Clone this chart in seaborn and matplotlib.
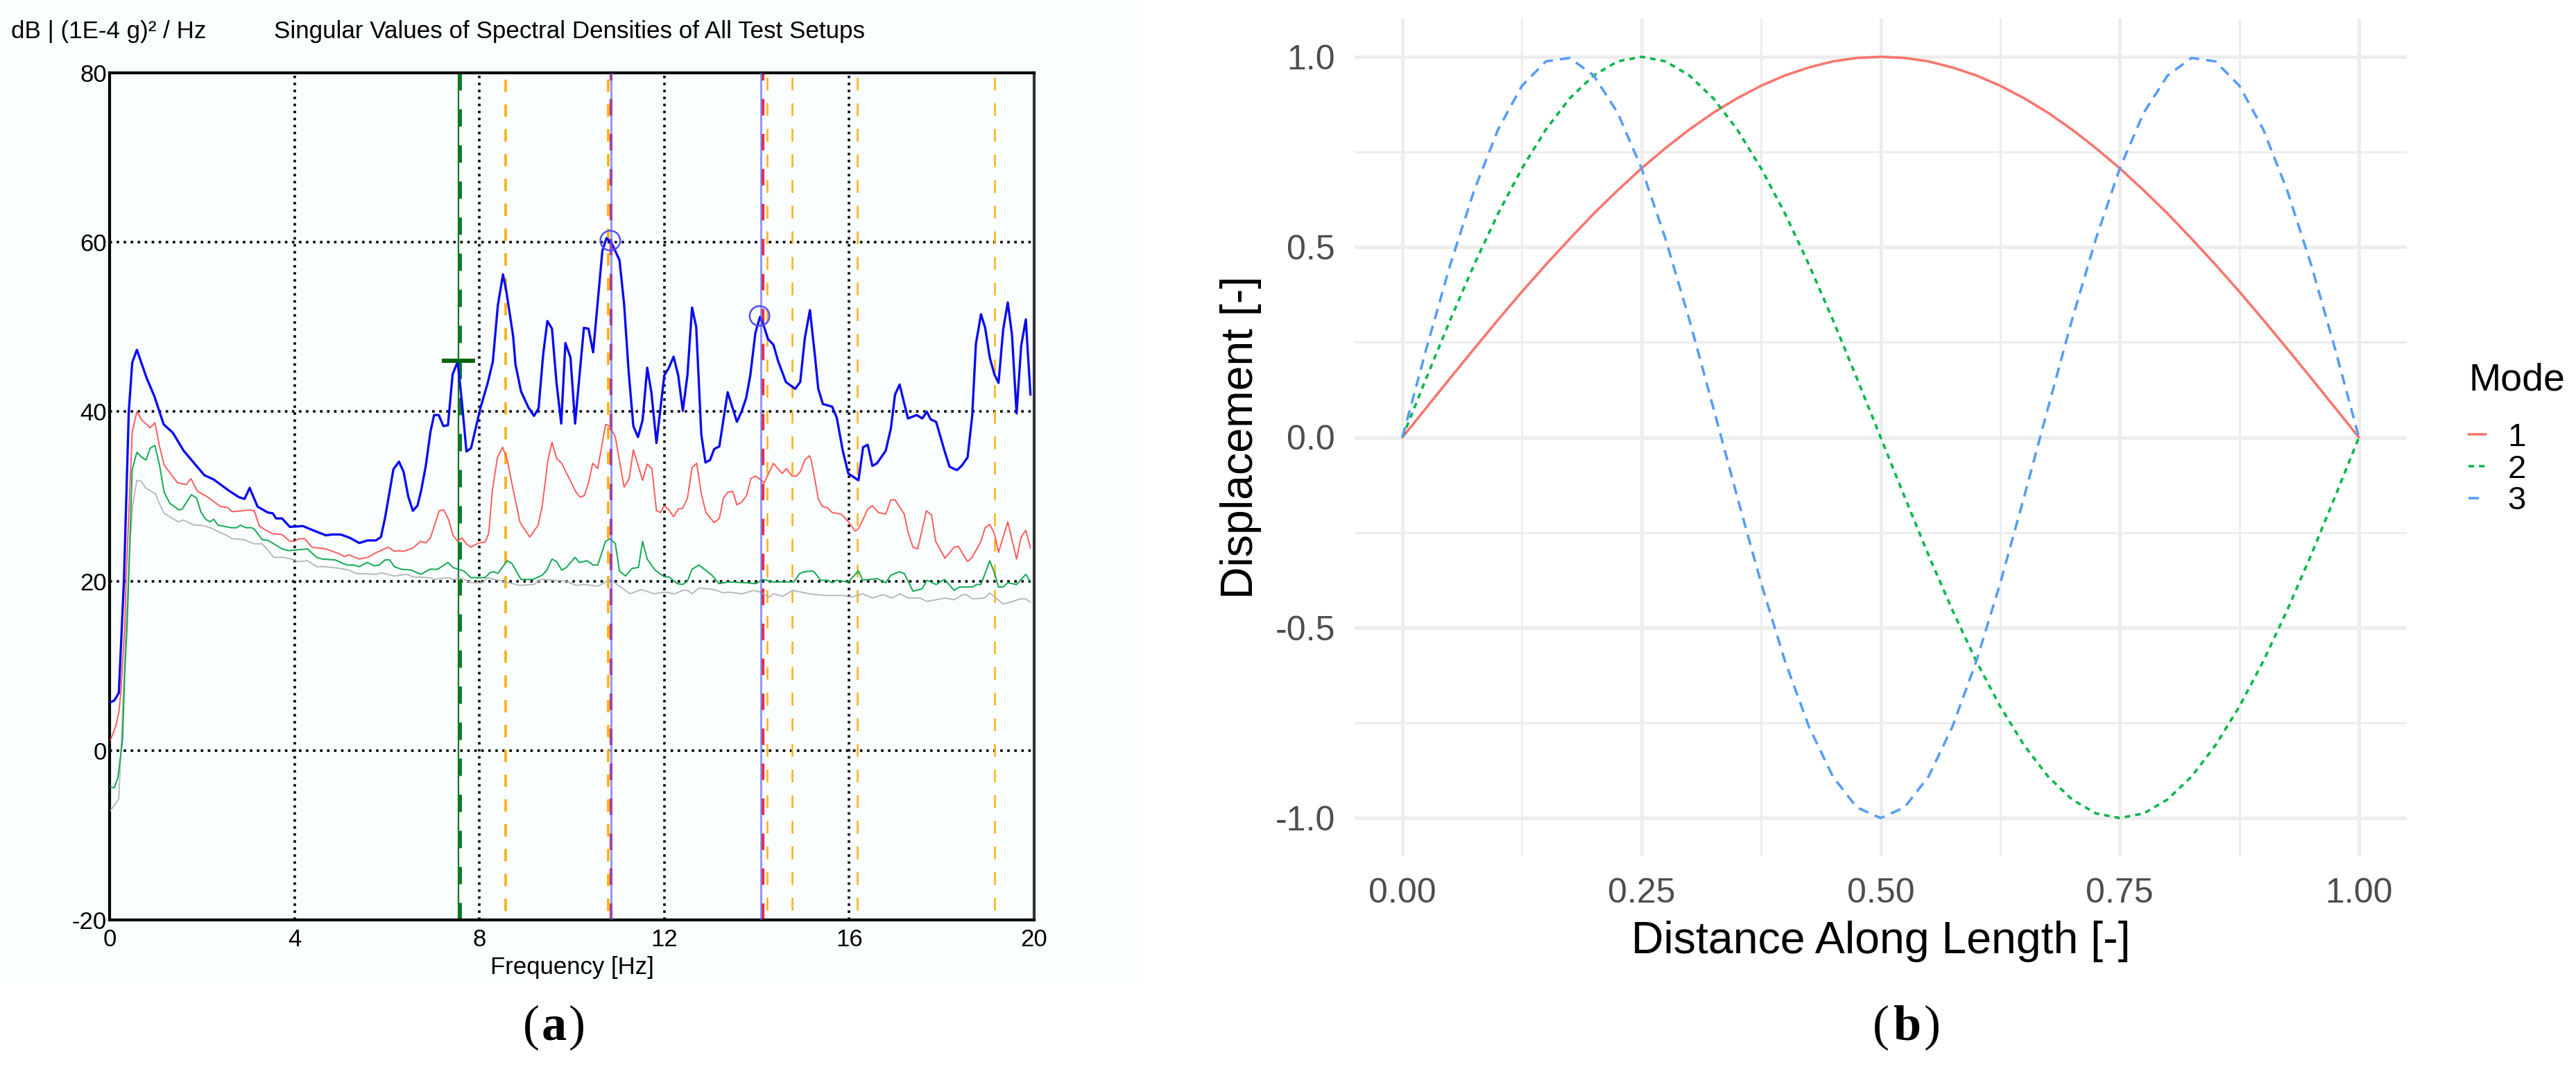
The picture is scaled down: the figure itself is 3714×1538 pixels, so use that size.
import matplotlib
matplotlib.use('Agg')
import matplotlib.pyplot as plt
import pandas as pd
import seaborn as sns
from matplotlib.patches import Rectangle

# Left panel: singular value curves (Hz, dB)
blue_hz = [0.02, 0.1, 0.2, 0.31, 0.415, 0.49, 0.59, 0.8, 0.97, 1.17, 1.37, 1.6, 2.05, 2.25, 2.6, 2.8, 2.92, 3.03, 3.2,
           3.42, 3.53, 3.6, 3.73, 3.9, 4.18, 4.4, 4.68, 4.8, 5.0, 5.2, 5.4, 5.58, 5.76, 5.87, 5.96, 6.14, 6.26, 6.36,
           6.46, 6.56, 6.66, 6.74, 6.84, 6.94, 7.02, 7.12, 7.22, 7.32, 7.42, 7.53, 7.62, 7.72, 7.82, 8.02, 8.18, 8.29,
           8.4, 8.51, 8.58, 8.73, 8.78, 8.9, 9.06, 9.18, 9.28, 9.38, 9.47, 9.57, 9.67, 9.77, 9.86, 9.97, 10.07, 10.26,
           10.36, 10.46, 10.66, 10.75, 10.86, 11.03, 11.13, 11.23, 11.33, 11.43, 11.53, 11.63, 11.72, 11.83, 12.0,
           12.1, 12.2, 12.3, 12.4, 12.5, 12.6, 12.69, 12.8, 12.89, 12.99, 13.08, 13.19, 13.37, 13.57, 13.67, 13.77,
           13.86, 13.97, 14.07, 14.16, 14.24, 14.36, 14.46, 14.63, 14.83, 14.94, 15.04, 15.15, 15.26, 15.33, 15.43,
           15.63, 15.73, 15.86, 15.98, 16.2, 16.3, 16.4, 16.5, 16.6, 16.79, 16.9, 16.99, 17.09, 17.18, 17.27, 17.46,
           17.58, 17.68, 17.76, 17.88, 18.06, 18.17, 18.33, 18.43, 18.56, 18.66, 18.74, 18.85, 18.94, 19.04, 19.14,
           19.23, 19.33, 19.43, 19.52, 19.62, 19.72, 19.82, 19.92]
blue_db = [5.7, 5.9, 6.8, 20, 40, 45.8, 47.3, 44, 41.8, 38.5, 37.5, 35.4, 32.5, 32, 30.6, 29.9, 29.7, 31, 28.8,
           28.1, 28, 27.4, 27.4, 26.4, 26.5, 26, 25.4, 25.5, 25.5, 25.1, 24.5, 24.8, 24.8, 25.2, 27.5, 33.2, 34.1, 32.9,
           30, 28.3, 28.9, 30.7, 33.6, 37.6, 39.6, 39.6, 38.3, 38.4, 44.4, 45.9, 41.2, 35.3, 35.7, 40.4, 43.4, 45.9,
           52.6, 56.2, 54.3, 48.9, 45.6, 42.4, 40.5, 39.5, 40.4, 46.8, 50.7, 49.8, 43.3, 38.6, 48.1, 46.4, 38.6, 49.9,
           49.8, 47, 59, 60.5, 59.9, 57.9, 52.7, 44.6, 38.3, 37, 39, 45.2, 42.3, 36.3, 44.3,
           45.2, 46.5, 44.3, 40.1, 44.3, 52.3, 50, 37.3, 34, 34.3, 35.6, 35.9, 42.3, 38.8, 40, 41.6,
           44.3, 49.3, 51.2, 50, 48.6, 47.9, 46, 43.5, 42.7, 43.5, 48.7, 52, 46.5, 42.7, 40.9,
           40.6, 39.3, 35.4, 32.7, 31.9, 35.8, 36.1, 33.6, 33.9, 35.4, 38, 42, 43.2, 41.2, 39.2, 39.6,
           39.2, 40, 39.1, 38.8, 35.4, 33.5, 33.1, 33.6, 34.6, 39.5, 48, 51.5, 49.9, 46.4, 44.4,
           43.4, 49.7, 52.9, 49.1, 39.8, 47.8, 50.9, 42]

red_hz = [0.02, 0.13, 0.2, 0.24, 0.33, 0.355, 0.49, 0.59, 0.7, 0.88, 0.98, 1.08, 1.18, 1.47, 1.66, 1.76, 1.9, 2.1, 2.4,
          2.55, 2.65, 2.88, 3.0, 3.13, 3.24, 3.38, 3.53, 3.73, 3.9, 4.0, 4.1, 4.22, 4.38, 4.68, 4.98, 5.08, 5.18, 5.4,
          5.58, 5.78, 6.03, 6.16, 6.26, 6.36, 6.56, 6.73, 6.84, 6.94, 7.13, 7.23, 7.33, 7.43, 7.53, 7.62, 7.73, 7.82,
          7.98, 8.12, 8.2, 8.28, 8.39, 8.5, 8.6, 8.7, 8.88, 9.09, 9.27, 9.36, 9.48, 9.57, 9.67, 9.78, 9.98, 10.08,
          10.18, 10.27, 10.36, 10.45, 10.56, 10.73, 10.82, 10.94, 11.13, 11.24, 11.33, 11.53, 11.63, 11.73, 11.83,
          11.92, 12.0, 12.1, 12.2, 12.3, 12.4, 12.5, 12.6, 12.7, 12.8, 12.9, 13.08, 13.19, 13.28, 13.38, 13.48, 13.57,
          13.67, 13.78, 13.87, 13.98, 14.16, 14.36, 14.55, 14.64, 14.76, 14.86, 14.94, 15.04, 15.14, 15.18, 15.26,
          15.33, 15.42, 15.52, 15.63, 15.83, 15.98, 16.13, 16.2, 16.3, 16.4, 16.5, 16.63, 16.79, 16.9, 16.99, 17.19,
          17.28, 17.38, 17.48, 17.67, 17.78, 17.87, 18.07, 18.27, 18.36, 18.56, 18.66, 18.85, 18.94, 19.04, 19.14,
          19.23, 19.43, 19.62, 19.72, 19.82, 19.92]
red_db = [1.25, 2.8, 4.5, 6.6, 14.8, 20, 37.6, 40, 39, 38.1, 38.7, 35.9, 33.7, 31.6, 31.4, 32.1, 30.6, 30, 28.8,
          28.7, 28.2, 28.3, 28.4, 28.3, 26.5, 26, 25.6, 25.5, 24.7, 24.7, 25, 25, 24, 23.8, 23.2, 22.9, 23.1, 22.6,
          22.8, 23.4, 24, 23.5, 23.6, 23.5, 23.9, 24.7, 24.5, 25.1, 28.3, 28.4, 27.3, 25.4, 24.7, 25.1, 24.3, 24,
          24.5, 24.6, 25.6, 30.7, 34.6, 35.8, 34.4, 31.6, 26.9, 25.2, 26.6, 28.9, 34.2, 36.4, 34.5, 33.9, 31.7, 30.6,
          29.9, 30.1, 31.6, 33.9, 33.3, 38.5, 38.3, 37, 31.1, 32.1, 35.5, 31.9, 33.8, 33.3, 28.3,
          28.1, 28.9, 28.4, 27.6, 28.5, 28.6, 29.8, 33.4, 33.9, 30.3, 28.1, 26.9, 27.4, 29.8, 30.5, 30.6, 29,
          29.3, 30.1, 32.1, 32.4, 31.6, 33.9, 32.7, 33.3, 32.4, 32.4, 32.9, 34.3, 34.8, 34.2, 31.9,
          29.7, 28.8, 28.7, 28.1, 27.9, 27, 25.9, 26.2, 27.3, 28.5, 28.9, 28.1, 27.9, 29.6, 29.6, 27.9,
          25.6, 24, 23.8, 28.3, 27.8, 24.7, 22.7, 24, 24.1, 22.3, 22.8, 24.7, 26.3, 26.7, 25.6,
          23.4, 27, 22.6, 25.2, 26, 23.9]

green_hz = [0.02, 0.1, 0.18, 0.23, 0.28, 0.33, 0.38, 0.49, 0.59, 0.7, 0.79, 0.88, 0.98, 1.08, 1.18, 1.3, 1.5, 1.57, 1.77,
            1.88, 1.98, 2.08, 2.17, 2.25, 2.35, 2.63, 2.75, 2.83, 2.95, 3.08, 3.15, 3.3, 3.43, 3.73, 3.88, 4.28, 4.48,
            4.6, 4.88, 5.13, 5.28, 5.4, 5.57, 5.73, 5.83, 5.96, 6.06, 6.16, 6.31, 6.53, 6.73, 6.93, 7.1, 7.32, 7.43,
            7.66, 7.82, 8.12, 8.23, 8.31, 8.4, 8.6, 8.7, 8.9, 9.16, 9.36, 9.46, 9.57, 9.67, 9.78, 9.88, 10.07, 10.16,
            10.33, 10.46, 10.56, 10.73, 10.83, 10.94, 11.03, 11.16, 11.3, 11.44, 11.53, 11.63, 11.8, 12.0, 12.1, 12.28,
            12.4, 12.5, 12.6, 12.75, 13.03, 13.18, 13.38, 13.78, 13.98, 14.13, 14.36, 14.8, 14.93, 15.03, 15.18, 15.24,
            15.38, 15.53, 15.63, 15.73, 15.98, 16.2, 16.29, 16.6, 16.79, 16.9, 17.08, 17.19, 17.38, 17.58, 17.68, 17.88,
            18.06, 18.27, 18.38, 18.66, 18.76, 18.85, 19.04, 19.14, 19.23, 19.33, 19.43, 19.62, 19.82, 19.92]
green_db = [-4.3, -4.4, -3.2, -1, 1.2, 9.4, 14.8, 33.2, 35.2, 34.6, 34.3, 35.7, 36, 33.7, 30.5, 29.2, 28.4, 28.5, 30.2,
            29.8, 28.1, 27.3, 27, 27.3, 26.6, 26.3, 26.3, 26.6, 26.3, 26.3, 26, 24.9, 24.8, 23.8, 23.6, 23.8, 22.8,
            22.6, 22.5, 21.9, 21.9, 21.7, 22.2, 21.8, 21.9, 22.5, 22.5, 21.7, 21.4, 21.3, 20.8, 21.4, 21.4, 22.2, 21.6,
            21.2, 20.4, 20.4, 21, 21.1, 20.9, 22.4, 22.1, 20.2, 20.2, 20.7, 21.3, 22.6, 22.3, 21.3, 21.6, 22.8, 22.2,
            22.4, 21.9, 21.9, 24.7, 25, 24.4, 21.2, 20.6, 21.5, 21.6, 24.7, 22.6, 21.3, 20.5, 20.5, 19.7,
            19.6, 20, 21.4, 21.9, 20.7, 19.7, 19.9, 19.8, 19.7, 20.2, 19.9, 19.9, 20.9, 21.1, 21.2, 21.1,
            20.1, 20.1, 19.8, 20.1, 19.9, 21.2, 20.1, 20.3, 19.8, 20.7, 21.1, 20.9, 18.8, 19.1, 20.1, 19.6,
            20.2, 18.9, 19.3, 19.3, 19.6, 19.6, 22.4, 21, 19.3, 19.3, 19.8, 19.6, 20.8, 19.9]

gray_hz = [0.02, 0.2, 0.43, 0.5, 0.59, 0.68, 0.78, 0.99, 1.08, 1.18, 1.48, 1.6, 1.83, 1.98, 2.18, 2.33, 2.53, 2.65, 2.9,
           3.13, 3.3, 3.4, 3.55, 3.78, 4.0, 4.05, 4.28, 4.48, 4.68, 4.98, 5.18, 5.33, 5.78, 5.87, 6.16, 6.43, 6.56,
           6.93, 7.03, 7.33, 7.43, 7.63, 7.83, 8.06, 8.18, 8.48, 8.88, 9.18, 9.33, 9.88, 10.08, 10.28, 10.56, 10.83,
           11.03, 11.26, 11.5, 11.78, 12.0, 12.23, 12.4, 12.5, 12.6, 12.75, 13.08, 13.28, 13.38, 13.68, 13.93, 14.08,
           14.26, 14.36, 14.56, 14.78, 15.13, 15.48, 15.88, 16.06, 16.29, 16.5, 16.73, 16.93, 17.09, 17.28, 17.53,
           17.68, 18.08, 18.27, 18.46, 18.54, 18.66, 18.93, 19.04, 19.33, 19.48, 19.7, 19.82, 19.92]
gray_db = [-7.1, -5.7, 23.6, 29, 31.9, 31.8, 31, 30.3, 29.1, 28, 27, 27.2, 26.6, 26.6, 26.3, 25.9, 25.4, 25, 24.9,
           24.4, 24.4, 23.8, 22.8, 22.8, 22.5, 22.3, 22.4, 21.7, 21.7, 21.5, 21.3, 20.9, 20.8, 21, 20.6, 20.8, 20.5,
           20.4, 20.2, 20.4, 20.2, 20.3, 19.8, 19.8, 20.4, 20, 19.5, 19.6, 20.2, 20, 19.5, 19.6, 19.4, 20.2,
           19.4, 18.5, 19, 18.5, 18.7, 18.5, 18.9, 18.9, 18.5, 19.2, 19, 18.6, 18.7, 18.5, 18.9, 18.7,
           18.1, 18.5, 18.2, 18.9, 18.5, 18.3, 18.3, 18.1, 18.5, 18, 18.4, 18, 18.5, 18, 18,
           17.6, 18, 17.8, 18.4, 18.4, 17.9, 18, 18.6, 17.3, 17.5, 17.9, 17.9, 17.5]

peak_hz = [10.83, 14.06]
peak_db = [60.2, 51.3]
pick_hz = [7.55]
pick_db = [46]
orange_thick_hz = [8.56, 10.79]
orange_thin_hz = [14.22, 14.76, 16.18, 19.14]
red_pick_hz = [10.85, 14.13]
blue_pick_hz = [10.85, 14.09]
green_pick_hz = 7.55
green_dash_hz = 7.57

freq_ticks = [0, 4, 8, 12, 16, 20]
db_ticks = [-20, 0, 20, 40, 60, 80]
db_labels = ['-20', '0', '20', '40', '60', '80']

# Right panel: mode shapes
distance = [0.000, 0.025, 0.050, 0.075, 0.100, 0.125, 0.150, 0.175, 0.200, 0.225, 0.250, 0.275, 0.300, 0.325,
            0.350, 0.375, 0.400, 0.425, 0.450, 0.475, 0.500, 0.525, 0.550, 0.575, 0.600, 0.625, 0.650, 0.675,
            0.700, 0.725, 0.750, 0.775, 0.800, 0.825, 0.850, 0.875, 0.900, 0.925, 0.950, 0.975, 1.000]
mode_1 = [0.000, 0.078, 0.156, 0.233, 0.309, 0.383, 0.454, 0.522, 0.588, 0.649, 0.707, 0.760, 0.809, 0.853,
          0.891, 0.924, 0.951, 0.972, 0.988, 0.997, 1.000, 0.997, 0.988, 0.972, 0.951, 0.924, 0.891, 0.853,
          0.809, 0.760, 0.707, 0.649, 0.588, 0.522, 0.454, 0.383, 0.309, 0.233, 0.156, 0.078, 0.000]
mode_2 = [0.000, 0.156, 0.309, 0.454, 0.588, 0.707, 0.809, 0.891, 0.951, 0.988, 1.000, 0.988, 0.951, 0.891,
          0.809, 0.707, 0.588, 0.454, 0.309, 0.156, 0.000, -0.156, -0.309, -0.454, -0.588, -0.707, -0.809, -0.891,
          -0.951, -0.988, -1.000, -0.988, -0.951, -0.891, -0.809, -0.707, -0.588, -0.454, -0.309, -0.156, 0.000]
mode_3 = [0.000, 0.233, 0.454, 0.649, 0.809, 0.924, 0.988, 0.997, 0.951, 0.853, 0.707, 0.522, 0.309, 0.078,
          -0.156, -0.383, -0.588, -0.760, -0.891, -0.972, -1.000, -0.972, -0.891, -0.760, -0.588, -0.383, -0.156, 0.078,
          0.309, 0.522, 0.707, 0.853, 0.951, 0.997, 0.988, 0.924, 0.809, 0.649, 0.454, 0.233, 0.000]
mode_names = ['1', '2', '3']

W, H = 3714, 1538

sns.set_theme(style='white')
plt.rcParams['font.family'] = ['Liberation Sans', 'DejaVu Sans']
plt.rcParams['text.color'] = 'black'

fig = plt.figure(figsize=(W / 100, H / 100), dpi=100, facecolor='white')


def axes_px(left, top, right, bottom):
    return fig.add_axes([left / W, 1 - bottom / H, (right - left) / W, (bottom - top) / H])


# Pale screenshot backdrop behind panel (a)
fig.patches.append(Rectangle((0, 1 - 1415 / H), 1643 / W, 1415 / H, transform=fig.transFigure,
                             facecolor='#FAFEFF', edgecolor='none', zorder=-5))

# ---- panel (a)
ax1 = axes_px(158, 105, 1491, 1326)
ax1.set_facecolor('#FAFEFF')

for hz in orange_thick_hz:
    ax1.axvline(hz, color='#FFB31A', lw=2.8, linestyle=(5.9, (4.6, 4.6)), zorder=2)
for hz in orange_thin_hz:
    ax1.axvline(hz, color='#FFB31A', lw=1.9, linestyle=(8.7, (7, 7)), zorder=2)
for hz in red_pick_hz:
    ax1.axvline(hz, color='#EE2A3C', lw=3, linestyle=(0, (5.7, 6.4)), zorder=2.1)
ax1.axvline(green_dash_hz, color='#0B7A2A', lw=3.6, linestyle=(0, (5, 5.4)), zorder=2.1)
ax1.axvline(green_pick_hz, color='#0A7A1E', lw=1.6, zorder=2.2)

sns.lineplot(x=gray_hz, y=gray_db, color='#B4B4B4', lw=1.3, ax=ax1, zorder=3)
sns.lineplot(x=green_hz, y=green_db, color='#10A84F', lw=1.4, ax=ax1, zorder=3.1)
sns.lineplot(x=red_hz, y=red_db, color='#FF5A5A', lw=1.4, ax=ax1, zorder=3.2)
sns.lineplot(x=blue_hz, y=blue_db, color='#0A0AF0', lw=2.4, ax=ax1, zorder=3.3)

for hz in blue_pick_hz:
    ax1.axvline(hz, color='#5F5FFF', alpha=0.7, lw=2, zorder=3.4)
sns.scatterplot(x=peak_hz, y=peak_db, s=420, facecolor='none', edgecolor='#5050F0', linewidth=1.8, ax=ax1, zorder=3.5)
ax1.plot(pick_hz, pick_db, marker='_', ms=35, mew=4.4, color='#006400', zorder=3.6)

ax1.set_xlim(0, 20)
ax1.set_ylim(-20, 80)
ax1.set_xticks(freq_ticks)
ax1.set_yticks(db_ticks)
ax1.set_yticklabels(db_labels)
ax1.tick_params(axis='both', length=0, labelsize=25, labelcolor='black')
ax1.tick_params(axis='x', pad=9)
ax1.tick_params(axis='y', pad=3)
ax1.grid(True, color='black', lw=2.6, linestyle=(0, (1, 1.8)))
ax1.set_axisbelow(True)
ax1.set_xlabel('Frequency [Hz]', fontsize=25, color='black', labelpad=5)
ax1.set_ylabel('')
for name, spine in ax1.spines.items():
    spine.set_visible(True)
    spine.set_linewidth(3)
    spine.set_color('#333333' if name == 'right' else 'black')

fig.text(16 / W, 1 - 45 / H, 'dB | (1E-4 g)² / Hz', fontsize=25.2, va='center', ha='left')
fig.text(395 / W, 1 - 45 / H, 'Singular Values of Spectral Densities of All Test Setups', fontsize=25.2,
         va='center', ha='left')

# ---- panel (b)
ax2 = axes_px(1953, 27, 3470, 1234)
modes = pd.DataFrame({
    'distance': distance * 3,
    'displacement': mode_1 + mode_2 + mode_3,
    'Mode': [m for m in mode_names for _ in distance],
})
sns.lineplot(data=modes, x='distance', y='displacement', hue='Mode', style='Mode',
             palette=['#F8766D', '#00B74A', '#559DF5'],
             dashes={'1': '', '2': (2.2, 2), '3': (4.2, 2.8)},
             lw=2.6, estimator=None, sort=False, ax=ax2)
ax2.set_xlim(-0.05, 1.05)
ax2.set_ylim(-1.1, 1.1)
ax2.set_xticks([0, 0.25, 0.5, 0.75, 1])
ax2.set_xticklabels(['0.00', '0.25', '0.50', '0.75', '1.00'])
ax2.set_yticks([-1, -0.5, 0, 0.5, 1])
ax2.set_yticklabels(['-1.0', '-0.5', '0.0', '0.5', '1.0'])
ax2.set_xticks([0.125, 0.375, 0.625, 0.875], minor=True)
ax2.set_yticks([-0.75, -0.25, 0.25, 0.75], minor=True)
ax2.grid(True, which='major', color='#EDEDED', lw=3.6)
ax2.grid(True, which='minor', color='#EDEDED', lw=2.2)
ax2.set_axisbelow(True)
ax2.tick_params(axis='both', which='both', length=0, labelsize=36, labelcolor='#4D4D4D')
ax2.tick_params(axis='x', pad=22)
ax2.tick_params(axis='y', pad=20)
ax2.set_xlabel('Distance Along Length [-]', fontsize=46.4, color='black', labelpad=12)
ax2.set_ylabel('Displacement [-]', fontsize=46.4, color='black', labelpad=14)
sns.despine(ax=ax2, left=True, bottom=True)

handles, labels = ax2.get_legend_handles_labels()
leg = ax2.legend(handles, labels, title='Mode', loc='upper left', frameon=False,
                 bbox_to_anchor=(3559 / W, 1 - 523 / H), bbox_transform=fig.transFigure,
                 fontsize=34, title_fontsize=40, borderpad=0, borderaxespad=0,
                 handlelength=0.53, handletextpad=0.66, labelspacing=0.036)
leg._legend_box.align = 'left'
leg._legend_box.sep = 24.5

# ---- panel letters, bold letter between plain brackets
for cx, letter, gap in [(799, 'a', 33), (2749, 'b', 37)]:
    fig.text((cx - gap) / W, 1 - 1481 / H, '(', family='Liberation Serif', fontsize=52, va='center', ha='center')
    fig.text(cx / W, 1 - 1481 / H, letter, family='Liberation Serif', fontsize=52, weight='bold', va='center', ha='center')
    fig.text((cx + gap) / W, 1 - 1481 / H, ')', family='Liberation Serif', fontsize=52, va='center', ha='center')

fig.savefig('out.png', dpi=100, facecolor=fig.get_facecolor())
